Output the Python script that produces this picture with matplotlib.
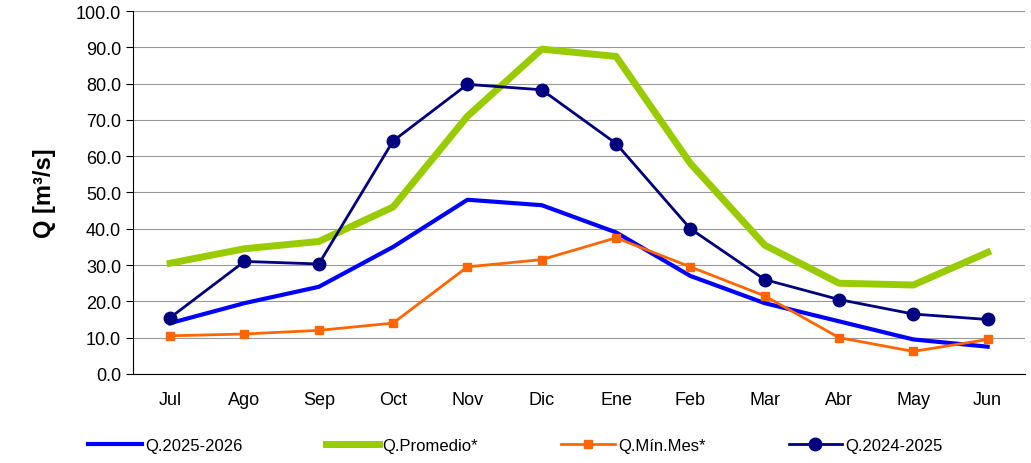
import matplotlib
matplotlib.use("Agg")
import matplotlib.pyplot as plt

plt.rcParams['font.family'] = ['Liberation Sans', 'DejaVu Sans']

months = ["Jul", "Ago", "Sep", "Oct", "Nov", "Dic", "Ene", "Feb", "Mar", "Abr", "May", "Jun"]
q_2526 = [14.0, 19.5, 24.0, 35.0, 48.0, 46.5, 39.0, 27.0, 19.5, 14.5, 9.5, 7.5]
q_prom = [30.5, 34.5, 36.5, 46.0, 71.0, 89.5, 87.5, 58.0, 35.5, 25.0, 24.5, 33.5]
q_min = [10.5, 11.0, 12.0, 14.0, 29.5, 31.5, 37.5, 29.5, 21.5, 10.0, 6.2, 9.5]
q_2425 = [15.5, 31.0, 30.3, 64.2, 79.8, 78.3, 63.5, 40.0, 26.0, 20.5, 16.5, 15.0]

fig = plt.figure(figsize=(10.31, 4.64), dpi=100)
ax = fig.add_axes([0.129, 0.192, 0.865, 0.782])
x = range(len(months))

ax.plot(x, q_2526, color="#0000ff", lw=3, label="Q.2025-2026", zorder=3)
ax.plot(x, q_prom, color="#99cc00", lw=5, label="Q.Promedio*", zorder=2)
ax.plot(x, q_min, color="#ff6600", lw=2, marker="s", ms=6, label="Q.Mín.Mes*", zorder=4)
ax.plot(x, q_2425, color="#000080", lw=2, marker="o", ms=9, label="Q.2024-2025", zorder=5)

ax.set_xlim(-0.5, 11.5)
ax.set_ylim(0, 100)
ax.set_yticks(range(0, 101, 10))
ax.set_yticklabels([f"{v:.1f}" for v in range(0, 101, 10)], fontsize=13)
ax.set_xticks(list(x))
ax.set_xticklabels(months, fontsize=13)
ax.tick_params(axis="x", length=0, pad=12)
ax.tick_params(axis="y", length=5)
ax.yaxis.grid(True, color="#999999", lw=0.8)
ax.set_axisbelow(True)
for s in ["top", "right"]:
    ax.spines[s].set_visible(False)
ax.set_ylabel("Q [m³/s]", fontsize=17, fontweight="bold", labelpad=14)

fig.legend(loc="lower center", ncol=4, frameon=False, fontsize=12,
           bbox_to_anchor=(0.5, -0.01), handlelength=3.2, handletextpad=0.2,
           columnspacing=5)

fig.savefig("out.png", dpi=100)
